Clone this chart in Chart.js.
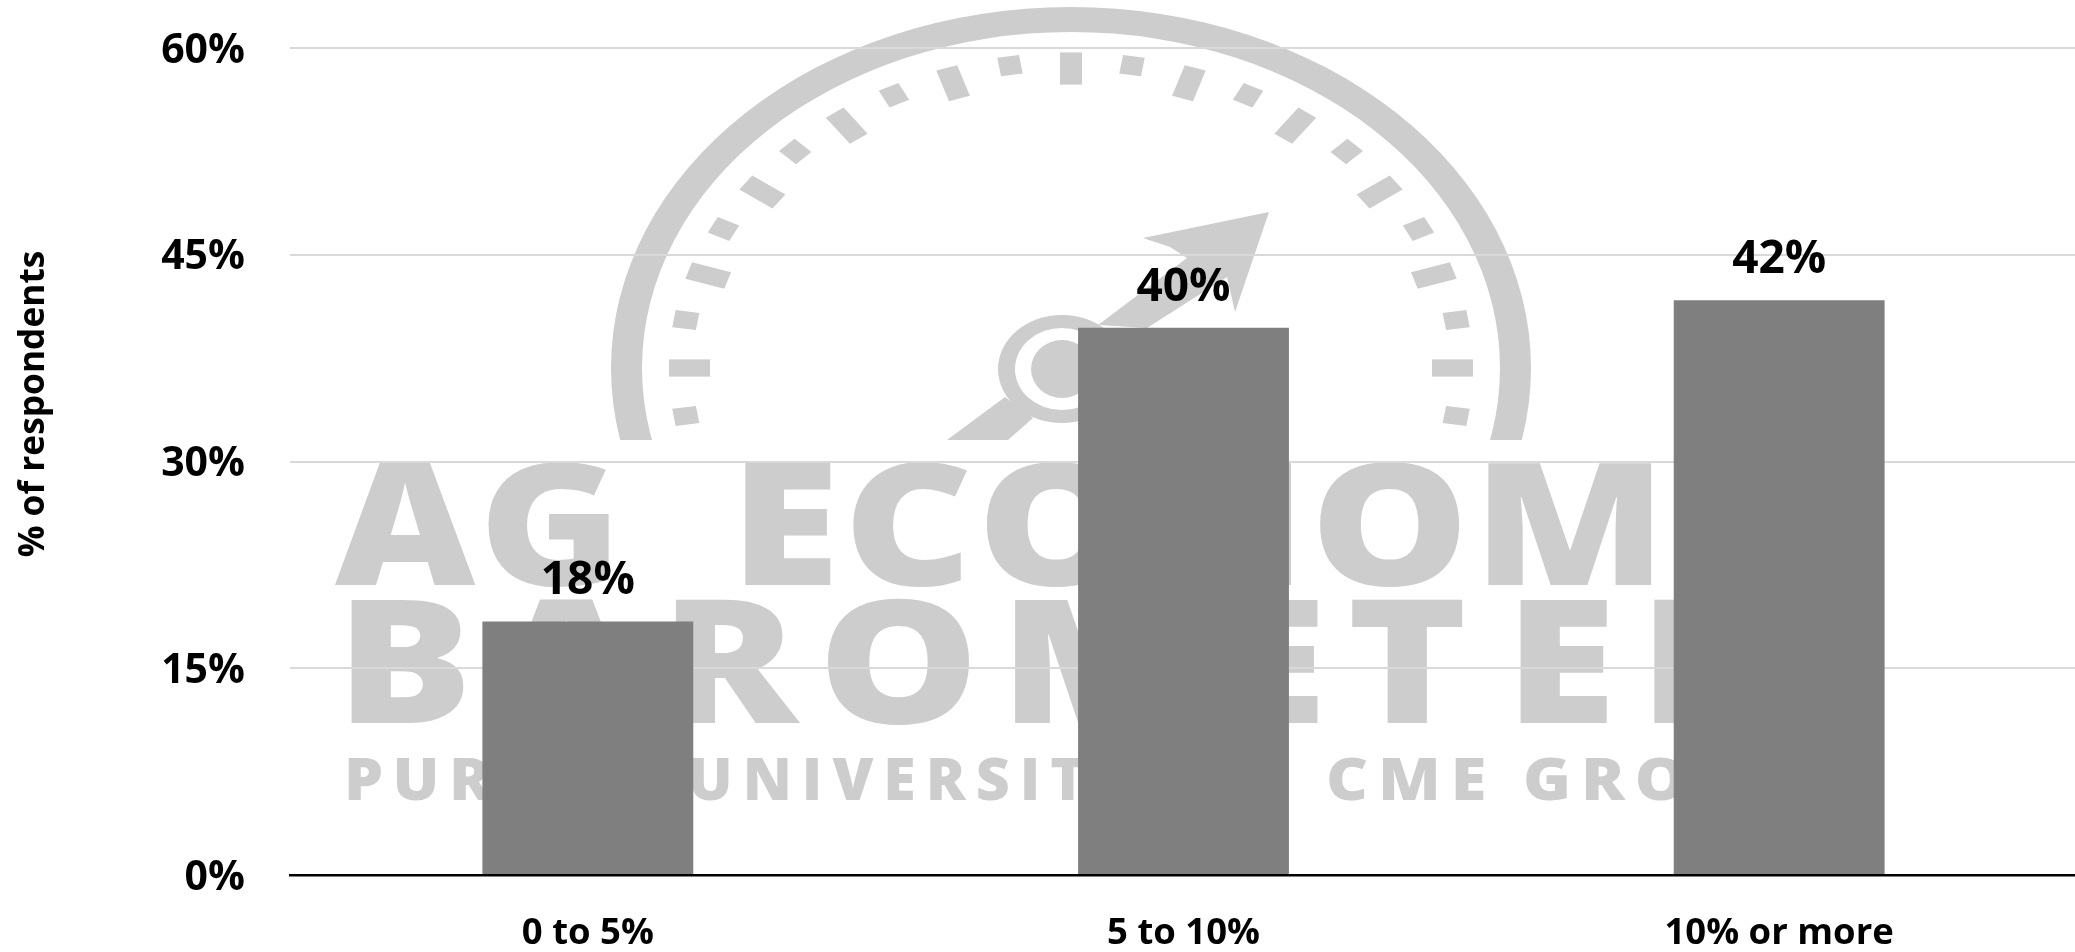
<!DOCTYPE html>
<html>
<head>
<meta charset="utf-8">
<style>
  html, body { margin: 0; padding: 0; background: #fff; overflow: hidden; }
  #wrap { width: 2077px; height: 952px; position: relative; }
</style>
<script src="https://cdn.jsdelivr.net/npm/chart.js@4"></script>
</head>
<body>
<div id="wrap"><canvas id="chart"></canvas></div>
<script>
const categories = ["0 to 5%", "5 to 10%", "10% or more"];
const respondents = [18.4, 39.7, 41.7];
const yTicks = [0, 15, 30, 45, 60];
const yTitle = "% of respondents";

const FONT = '"Open Sans"';
const LOGO = "#cdcdcd";

// faded logo behind the chart, it is not data
const logoPlugin = {
  id: "logo",
  beforeDraw(chart) {
    const c = chart.ctx;
    c.save();
    c.fillStyle = LOGO;

    // gauge
    c.save();
    c.beginPath();
    c.rect(0, 0, 2077, 440);
    c.clip();
    c.save();
    c.translate(1071, 368);
    c.beginPath();
    c.ellipse(0, 0, 460, 361, 0, 0, Math.PI * 2);
    c.ellipse(0, 0, 429, 336, 0, 0, Math.PI * 2, true);
    c.fill();
    c.scale(1, 0.785);
    for (let k = -12; k <= 12; k++) {
      c.save();
      c.rotate(k * 9 * Math.PI / 180);
      const inner = k % 2 === 0 ? 361 : 378;
      c.fillRect(-11, -402, 22, 402 - inner);
      c.restore();
    }
    c.restore();

    // needle
    c.beginPath();
    c.moveTo(1269, 212);
    c.lineTo(1143, 238);
    c.lineTo(1170, 247);
    c.lineTo(1187, 258);
    c.lineTo(1098, 325);
    c.lineTo(1147, 328);
    c.lineTo(1227, 277);
    c.lineTo(1235, 312);
    c.closePath();
    c.fill();
    c.beginPath();
    c.moveTo(947, 440);
    c.lineTo(1005, 397);
    c.lineTo(1033, 418);
    c.lineTo(1008, 440);
    c.closePath();
    c.fill();

    // hub
    c.beginPath();
    c.ellipse(1062, 369, 64, 54, 0, 0, Math.PI * 2);
    c.fill();
    c.fillStyle = "#fff";
    c.beginPath();
    c.ellipse(1062, 369, 47, 41, 0, 0, Math.PI * 2);
    c.fill();
    c.fillStyle = LOGO;
    c.beginPath();
    c.ellipse(1062, 369, 31, 29, 0, 0, Math.PI * 2);
    c.fill();
    c.restore();

    // lettering, the third bar hides the end of each line
    c.beginPath();
    c.rect(0, 440, 1674, 400);
    c.clip();
    c.textBaseline = "alphabetic";
    const line = (text, x, y, size, sx, spacing) => {
      c.save();
      c.translate(x, y);
      c.scale(sx, 1);
      c.font = "800 " + size + "px " + FONT;
      c.letterSpacing = spacing + "px";
      c.fillText(text, 0, 0);
      c.restore();
    };
    line("AG", 335, 585, 171, 1.13, 3);
    line("ECONOM", 730, 585, 171, 1.17, 3);
    line("BAROMET", 336, 723, 172, 1.18, 17);
    line("ER", 1505, 723, 172, 1.18, 19);
    line("PURDUE", 344, 800, 59, 1.05, 9);
    line("UNIVERSITY", 688, 800, 59, 1, 10);
    line("CME GROUP", 1326, 800, 59, 1.1, 9);
    c.restore();
  }
};

const valueLabels = {
  id: "valueLabels",
  afterDatasetsDraw(chart) {
    const c = chart.ctx;
    c.save();
    c.fillStyle = "#000";
    c.font = "bold 46px " + FONT;
    c.textAlign = "center";
    c.textBaseline = "middle";
    chart.getDatasetMeta(0).data.forEach((bar, i) => {
      c.fillText(Math.round(respondents[i]) + "%", bar.x, bar.y - 40);
    });
    // axis title sits above the middle of the axis in the reference
    c.translate(34, 404);
    c.rotate(-Math.PI / 2);
    c.font = "bold 35.3px " + FONT;
    c.fillText(yTitle, 0, 0);
    c.restore();
  }
};

new Chart(document.getElementById("chart"), {
  type: "bar",
  data: {
    labels: categories,
    datasets: [{
      data: respondents,
      backgroundColor: "#7f7f7f",
      barPercentage: 0.354,
      categoryPercentage: 1
    }]
  },
  plugins: [logoPlugin, valueLabels],
  options: {
    responsive: true,
    maintainAspectRatio: false,
    animation: false,
    layout: { padding: { top: 48, left: 0, right: 0, bottom: 0 } },
    plugins: { legend: { display: false }, tooltip: { enabled: false } },
    scales: {
      x: {
        afterFit: s => { s.height = 77; },
        grid: { display: false },
        border: { color: "#000", width: 2.5 },
        ticks: {
          color: "#000",
          padding: 28.5,
          font: { family: FONT, weight: "bold", size: 36.5 }
        }
      },
      y: {
        min: 0,
        max: 60,
        afterBuildTicks: s => { s.ticks = yTicks.map(v => ({ value: v })); },
        afterFit: s => { s.width = 290; s.paddingTop = 0; },
        grid: { color: "#d9d9d9", lineWidth: 2, drawTicks: false },
        border: { display: false },
        ticks: {
          color: "#000",
          padding: 45,
          labelOffset: 3,
          callback: v => v + "%",
          font: { family: FONT, weight: "bold", size: 41 }
        }
      }
    }
  }
});
</script>
</body>
</html>
